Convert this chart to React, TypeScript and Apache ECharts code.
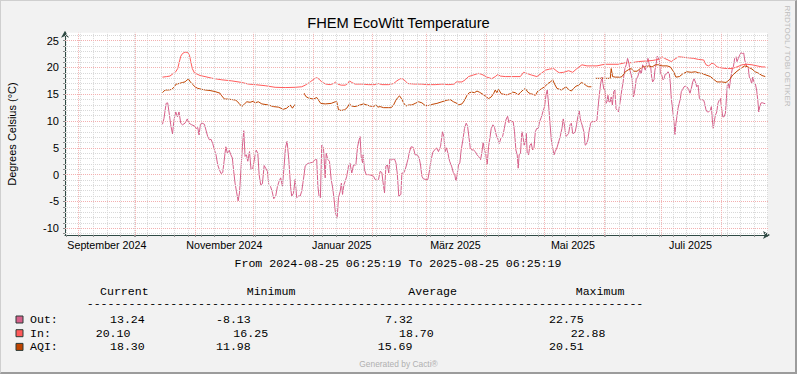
import React, { useEffect, useRef } from "react";
import * as echarts from "echarts";

const DAY_MS = 86400000;
const RANGE_START = Date.UTC(2024, 7, 25, 6, 25, 19);
const RANGE_END = Date.UTC(2025, 7, 25, 6, 25, 19);

const TITLE = "FHEM EcoWitt Temperature";
const Y_TITLE = "Degrees Celsius (°C)";
const PERIOD_TEXT = "From 2024-08-25 06:25:19 To 2025-08-25 06:25:19";
const WATERMARK = "RRDTOOL / TOBI OETIKER";
const FOOTER = "Generated by Cacti®";

const monthLabels = ["September 2024", "November 2024", "Januar 2025", "März 2025", "Mai 2025", "Juli 2025"];
const monthLabelDates: [number, number, number][] = [
  [2024, 8, 16], [2024, 10, 16], [2025, 0, 16], [2025, 2, 16], [2025, 4, 16], [2025, 6, 16],
];
const yTickValues = [-10, -5, 0, 5, 10, 15, 20, 25];

// [days after 2024-08-25 06:25:19, °C]
const outPoints: [number, number][] = [
  [50.6, 9.4], [51.4, 10.5], [52.5, 13.3], [53.3, 13.4], [54.0, 11.7], [54.9, 9.3], [55.8, 7.6], [56.6, 10.2],
  [57.5, 11.7], [58.4, 10.8], [59.2, 11.7], [60.1, 9.6], [61.0, 9.3], [62.3, 9.6], [63.5, 10.4], [64.4, 9.6],
  [65.8, 9.3], [67.2, 9.1], [68.2, 8.6], [68.9, 8.8], [69.6, 7.4], [70.3, 9.4], [71.2, 9.6], [72.4, 9.4],
  [73.2, 8.3], [74.1, 7.1], [75.0, 6.5], [75.8, 6.6], [76.7, 5.8], [77.6, 4.6], [78.4, 3.7], [79.3, 1.8],
  [80.2, 0.9], [81.0, 0.2], [81.9, 0.4], [82.6, 2.5], [83.5, 5.2], [84.3, 4.0], [85.2, 4.6], [86.1, 3.7],
  [86.9, 3.1], [87.6, 0.6], [88.3, -1.6], [89.0, -3.1], [89.9, -4.9], [90.6, -3.4], [91.4, 1.2], [92.1, 5.2],
  [92.8, 8.2], [93.5, 3.4], [94.2, 3.7], [94.9, 2.5], [95.8, 4.3], [96.6, 0.9], [97.5, 1.2], [99.2, 4.6],
  [100.1, 4.0], [100.8, 0.0], [101.6, -1.9], [102.5, -1.7], [103.4, 1.7], [104.2, 1.2], [105.1, 0.6], [105.8, -1.9],
  [106.7, -2.2], [107.5, -3.1], [108.4, -4.5], [109.4, -4.0], [110.3, -2.2], [111.2, -1.2], [112.0, -0.6], [112.9, -2.2],
  [113.8, 1.8], [114.5, 5.1], [115.3, 6.2], [116.2, 2.8], [117.1, -2.2], [117.7, -4.0], [118.6, -3.5], [119.5, -0.9],
  [120.3, -4.3], [121.2, -4.0], [122.1, -4.0], [122.9, -3.1], [123.8, -0.9], [124.7, 1.6], [126.1, 2.1], [127.3, 2.2],
  [128.5, 2.3], [129.9, 2.8], [130.7, 2.8], [131.3, -2.2], [131.9, -4.0], [132.6, -4.3], [133.3, 5.5], [134.2, 5.0],
  [135.1, -0.6], [135.6, 4.0], [136.5, 2.8], [137.3, 2.5], [138.2, -0.9], [139.0, -2.5], [139.7, -4.6], [140.4, -7.1],
  [141.3, -8.13], [142.0, -4.3], [142.9, -3.1], [143.5, -1.6], [144.1, -3.7], [144.8, -1.9], [145.5, -1.2], [146.3, -0.3],
  [147.2, 1.6], [148.0, 2.1], [148.9, 0.3], [149.8, 1.8], [151.0, 1.8], [151.9, 5.2], [152.7, 6.5], [153.2, 7.1],
  [153.8, 3.3], [154.5, 2.2], [154.8, 3.7], [155.5, 0.9], [156.4, 0.0], [157.6, 0.0], [158.8, -0.1], [160.2, -0.3],
  [161.0, -0.9], [162.1, -1.1], [162.8, -0.9], [163.6, 0.6], [164.5, 0.4], [165.4, -2.2], [165.9, -3.4], [166.6, 1.6],
  [167.4, 1.8], [168.1, 0.3], [168.7, 3.1], [169.5, 2.7], [170.2, 2.9], [171.1, 2.9], [171.8, 2.2], [172.5, 0.3],
  [173.3, -4.0], [174.4, -3.7], [174.9, 0.3], [175.8, 0.3], [176.6, 0.9], [177.3, 1.8], [178.0, 2.8], [178.9, 4.3],
  [179.7, 5.2], [180.8, 5.1], [181.8, 3.7], [182.9, 3.7], [183.9, 3.1], [184.6, 1.8], [185.3, -0.3], [186.1, -0.8],
  [187.4, -0.9], [188.4, -0.9], [189.3, 0.9], [190.1, 2.8], [191.0, 4.2], [191.9, 4.6], [192.9, 5.0], [193.9, 4.3],
  [195.0, 5.3], [196.0, 8.0], [196.7, 7.1], [197.4, 4.3], [198.1, 5.0], [198.8, 4.0], [199.7, 2.5], [200.7, 1.6],
  [201.6, 0.4], [202.4, 0.0], [202.9, -1.2], [203.5, -0.3], [204.3, 1.8], [205.0, 2.2], [205.7, 4.6], [206.6, 6.5],
  [207.4, 8.6], [208.3, 9.6], [209.0, 9.1], [209.7, 7.1], [210.4, 5.0], [211.3, 4.6], [212.1, 4.6], [213.0, 4.3],
  [213.9, 3.7], [214.7, 3.4], [215.8, 2.8], [216.5, 4.3], [217.1, 6.0], [217.8, 4.6], [218.5, 3.7], [219.2, 1.8],
  [219.9, 5.2], [220.6, 6.8], [221.3, 8.6], [222.2, 9.3], [223.0, 8.8], [223.9, 7.4], [224.8, 6.6], [225.5, 5.8],
  [226.3, 6.8], [227.2, 7.1], [228.1, 8.6], [228.9, 10.2], [229.8, 10.9], [230.5, 9.7], [231.2, 10.2], [232.0, 9.9],
  [232.7, 9.9], [233.4, 8.0], [234.1, 4.6], [234.8, 3.7], [235.3, 1.2], [235.8, 3.7], [236.5, 4.0], [237.2, 8.0],
  [237.8, 7.1], [238.4, 5.5], [239.0, 6.1], [239.5, 7.7], [240.0, 4.0], [240.7, 3.7], [241.4, 5.5], [242.1, 5.8],
  [242.8, 4.6], [243.5, 5.0], [244.2, 8.0], [244.9, 8.6], [245.7, 8.6], [246.4, 9.9], [247.3, 10.7], [248.1, 11.7],
  [249.0, 12.7], [249.7, 14.8], [250.4, 15.8], [251.1, 13.0], [251.8, 9.6], [252.5, 6.5], [253.2, 5.0], [253.9, 3.7],
  [254.5, 4.3], [255.4, 5.0], [256.3, 6.1], [257.1, 7.1], [258.0, 8.6], [258.7, 10.4], [259.4, 9.0], [260.1, 7.1],
  [260.8, 7.4], [261.5, 7.7], [262.2, 9.3], [262.9, 9.6], [263.6, 7.7], [264.2, 7.7], [264.9, 8.0], [265.6, 9.3],
  [266.3, 10.9], [267.0, 11.9], [267.5, 10.5], [268.1, 9.7], [268.7, 9.0], [269.4, 8.0], [270.1, 5.5], [270.8, 5.7],
  [271.5, 6.5], [272.2, 8.3], [272.9, 9.6], [273.6, 9.9], [274.5, 9.9], [275.3, 9.9], [276.2, 10.2], [276.7, 12.3],
  [277.4, 14.8], [278.1, 17.0], [278.8, 18.2], [279.3, 17.0], [279.8, 15.8], [280.3, 16.1], [280.9, 13.3], [281.4, 13.6],
  [281.9, 14.8], [282.4, 13.6], [283.1, 13.6], [283.6, 14.5], [284.2, 13.0], [284.9, 15.5], [285.5, 15.8], [286.1, 12.3],
  [286.8, 12.0], [287.4, 11.7], [288.1, 13.3], [288.7, 14.8], [289.2, 16.1], [289.7, 17.0], [290.2, 18.6], [290.7, 19.8],
  [291.4, 20.5], [292.1, 21.7], [292.8, 20.8], [293.3, 19.5], [294.0, 18.6], [294.5, 17.7], [295.1, 14.5], [295.6, 15.2],
  [296.1, 16.4], [296.6, 17.9], [297.3, 18.2], [297.8, 18.8], [298.5, 19.5], [299.2, 18.8], [299.9, 20.5], [300.6, 20.1],
  [301.3, 19.5], [302.0, 20.8], [302.7, 21.7], [303.4, 20.5], [304.1, 20.1], [304.6, 18.2], [305.1, 17.3], [305.8, 17.7],
  [306.3, 19.5], [307.0, 20.8], [307.5, 22.1], [308.6, 21.4], [309.1, 18.9], [309.8, 18.6], [310.5, 17.7], [311.0, 17.9],
  [311.7, 18.8], [312.4, 18.8], [313.1, 19.2], [313.8, 18.8], [314.3, 17.0], [314.8, 14.2], [315.3, 12.7], [315.8, 11.1],
  [316.4, 9.0], [316.7, 7.5], [317.2, 9.6], [317.7, 10.8], [318.3, 12.4], [318.9, 13.3], [319.5, 14.2], [320.0, 15.5],
  [320.7, 15.9], [321.4, 16.4], [322.1, 16.5], [322.9, 16.4], [323.8, 15.9], [324.5, 15.2], [325.2, 16.1], [325.9, 17.3],
  [326.6, 17.9], [327.3, 17.3], [328.0, 16.4], [328.7, 16.7], [329.4, 14.2], [330.0, 14.0], [330.7, 14.0], [331.6, 13.9],
  [332.1, 13.3], [332.8, 12.1], [333.5, 11.7], [334.2, 11.7], [335.1, 12.1], [335.6, 12.7], [336.1, 10.2], [336.6, 8.6],
  [337.1, 9.9], [337.7, 11.1], [338.4, 11.7], [339.0, 13.3], [339.7, 13.9], [340.3, 14.2], [340.8, 12.7], [341.5, 10.8],
  [342.2, 10.8], [342.9, 11.5], [343.4, 14.2], [343.9, 16.7], [344.4, 17.0], [344.9, 16.1], [345.5, 17.7], [346.0, 18.8],
  [346.5, 19.8], [347.0, 20.1], [347.7, 21.7], [348.4, 22.0], [348.9, 21.1], [349.6, 21.7], [350.3, 22.3], [351.0, 22.75],
  [351.7, 22.6], [352.4, 22.7], [352.9, 21.4], [353.4, 20.8], [354.1, 20.1], [354.8, 19.8], [355.3, 18.2], [356.0, 17.7],
  [356.5, 17.0], [357.1, 18.2], [357.7, 17.3], [358.4, 17.0], [359.1, 15.8], [359.7, 13.9], [360.2, 11.7], [360.7, 12.7],
  [361.4, 13.4], [362.3, 13.4], [362.9, 13.3], [363.6, 13.24],
];

const inPoints: [number, number][] = [
  [50.6, 18.2], [52.8, 18.3], [54.5, 18.4], [56.3, 18.9], [57.5, 19.2], [58.5, 19.8], [59.2, 20.8], [60.1, 22.1],
  [61.0, 22.6], [62.3, 22.88], [63.7, 22.8], [64.6, 22.3], [65.3, 21.1], [66.1, 19.8], [67.2, 19.0], [68.4, 18.8],
  [70.1, 18.5], [72.7, 18.3], [76.2, 18.0], [81.4, 17.7], [86.6, 17.5], [91.8, 17.2], [95.2, 16.9], [98.7, 16.8],
  [103.9, 16.6], [109.1, 16.3], [114.3, 16.25], [119.5, 16.3], [122.9, 16.4], [124.7, 16.7], [127.3, 17.3], [129.5, 17.9],
  [130.7, 18.1], [132.0, 17.8], [133.3, 17.3], [135.4, 16.9], [137.7, 16.8], [139.4, 17.0], [140.6, 17.3], [141.6, 16.9],
  [143.4, 16.7], [145.5, 16.7], [146.8, 17.0], [147.7, 17.5], [148.9, 17.2], [150.6, 16.9], [154.1, 16.9], [157.6, 16.8],
  [161.0, 16.8], [162.8, 17.0], [164.5, 16.8], [168.0, 16.8], [170.6, 17.0], [172.3, 17.5], [174.0, 17.9], [175.2, 17.9],
  [176.6, 17.5], [178.0, 17.0], [181.8, 16.9], [185.3, 16.9], [187.9, 16.8], [192.2, 16.8], [195.7, 16.9], [199.1, 16.8],
  [202.2, 16.9], [203.1, 17.3], [206.1, 17.3], [207.8, 17.7], [209.5, 18.3], [212.1, 18.6], [214.7, 18.9], [216.5, 18.7],
  [219.1, 18.2], [221.6, 17.9], [223.4, 18.3], [224.8, 18.7], [226.0, 18.4], [228.6, 18.3], [232.0, 18.3], [236.4, 18.3],
  [238.1, 19.1], [239.8, 18.9], [242.1, 18.6], [245.0, 18.3], [247.3, 18.9], [249.4, 19.5], [251.6, 19.7], [253.7, 19.8],
  [255.4, 19.3], [256.6, 19.0], [258.9, 19.1], [261.5, 19.4], [263.6, 19.1], [265.8, 19.8], [268.4, 20.5], [271.0, 20.3],
  [276.2, 20.3], [278.8, 20.5], [280.5, 20.6], [287.4, 20.6], [290.9, 20.9], [294.4, 20.9], [297.8, 21.1], [301.3, 21.2],
  [304.8, 21.3], [306.5, 21.4], [308.2, 21.5], [310.0, 22.0], [311.3, 21.7], [313.1, 21.4], [314.8, 21.1], [316.0, 21.4],
  [317.2, 21.7], [318.6, 22.0], [321.2, 21.9], [323.8, 21.8], [326.4, 21.7], [329.0, 21.5], [331.6, 21.4], [332.8, 20.5],
  [334.2, 20.3], [335.9, 20.8], [337.3, 20.6], [338.5, 20.1], [341.1, 19.9], [343.7, 19.8], [346.3, 19.8], [348.9, 20.1],
  [351.5, 20.5], [354.1, 20.6], [356.7, 20.5], [359.3, 20.3], [361.9, 20.1], [363.6, 20.1],
];

const aqiPoints: [number, number | null][] = [
  [50.6, 15.3], [52.0, 15.8], [53.7, 15.8], [55.4, 15.9], [56.8, 16.4], [57.7, 16.9], [59.2, 17.0], [61.0, 17.2],
  [62.3, 17.3], [63.4, 17.7], [64.2, 17.8], [65.1, 17.3], [66.1, 16.9], [67.5, 16.4], [68.9, 16.1], [70.1, 16.0],
  [72.7, 15.8], [75.3, 15.7], [77.9, 15.5], [80.5, 15.2], [81.4, 14.7], [82.8, 14.1], [84.8, 14.1], [86.9, 14.0],
  [88.7, 13.9], [90.4, 13.3], [91.8, 12.7], [93.2, 13.2], [94.4, 13.6], [96.1, 13.5], [97.8, 13.7], [98.7, 13.4],
  [100.4, 13.6], [102.2, 13.2], [105.6, 13.0], [108.2, 12.7], [110.8, 12.6], [113.4, 12.2], [115.1, 12.4], [116.9, 13.0],
  [118.1, 12.4], [119.1, 13.0], [119.8, 13.0], [121.9, null],
  [124.2, 15.2], [125.0, 14.6], [126.4, 14.3], [129.0, 14.1], [130.7, 14.4], [131.6, 13.9], [132.8, 13.3], [135.1, 13.2],
  [138.2, 13.3], [140.3, 13.6], [141.1, 13.6], [142.0, 12.1], [143.4, 11.98], [145.1, 12.1], [146.3, 12.4], [147.7, 13.2],
  [148.9, 12.8], [150.6, 12.7], [153.2, 13.0], [155.0, 13.2], [156.7, 13.0], [158.4, 12.8], [160.2, 12.7], [161.4, 13.0],
  [162.4, 12.6], [163.6, 12.7], [165.4, 12.5], [168.0, 12.5], [169.4, 12.5], [170.6, 13.0], [171.8, 13.9], [172.8, 14.4],
  [173.7, 14.7], [174.5, 14.3], [175.8, 13.4], [177.0, 12.8], [178.4, 13.0], [180.1, 13.0], [181.8, 13.3], [183.6, 13.6],
  [185.3, 13.4], [187.0, 12.9], [188.7, 12.9], [190.5, 13.1], [193.1, 13.3], [195.7, 13.6], [198.3, 13.9], [200.0, 14.0],
  [201.7, 13.6], [203.5, 13.3], [204.3, 13.0], [206.1, 13.2], [207.5, 13.9], [208.7, 14.8], [209.9, 15.3], [211.3, 15.4],
  [212.6, 15.3], [213.9, 15.6], [215.1, 15.4], [216.5, 15.1], [218.2, 14.7], [219.9, 14.2], [221.3, 14.5], [222.5, 15.1],
  [223.4, 15.8], [224.2, 15.3], [225.1, 15.9], [226.5, 15.1], [227.7, 15.0], [229.4, 14.9], [231.2, 15.1], [232.4, 15.4],
  [233.8, 15.3], [235.2, 14.9], [236.4, 15.3], [237.8, 15.8], [239.0, 16.1], [240.3, 15.4], [241.6, 15.1], [242.9, 15.0],
  [244.2, 14.8], [245.5, 15.6], [247.3, 16.0], [249.0, 16.4], [250.7, 17.0], [252.1, 17.3], [253.2, 17.7], [254.2, 16.9],
  [255.4, 16.1], [257.7, 15.8], [258.9, 16.1], [260.1, 16.4], [261.5, 15.9], [262.9, 15.6], [264.1, 16.1], [265.3, 16.5],
  [266.7, 16.7], [268.1, 17.2], [269.3, 17.0], [270.7, 16.6], [271.9, 16.4], [273.3, 16.4], [274.3, null],
  [275.3, 17.97], [277.9, 17.97], [280.5, 17.97], [283.1, 17.97], [283.6, 19.8], [284.3, 18.3], [285.7, 18.2], [288.3, 18.2],
  [289.2, 18.3], [290.9, 19.2], [292.6, 19.6], [294.0, 19.8], [295.2, 19.3], [297.0, 19.3], [298.7, 19.8], [299.9, 20.1],
  [301.3, 20.1], [303.0, 20.3], [304.8, 20.1], [306.5, 20.5], [308.2, 20.51], [310.0, 20.3], [312.6, 20.3], [314.3, 20.1],
  [316.0, 19.2], [317.2, 18.2], [319.0, 18.3], [320.7, 18.8], [322.9, 19.2], [325.2, 19.1], [327.3, 19.2], [329.0, 19.0],
  [330.7, 18.9], [332.8, 18.6], [335.1, 18.3], [336.8, 17.8], [338.5, 17.3], [341.1, 17.3], [343.2, 17.2], [344.9, 17.7],
  [346.7, 18.6], [348.9, 19.3], [350.7, 19.8], [352.9, 20.3], [354.6, 20.1], [356.7, 19.7], [358.4, 19.2], [360.2, 18.9],
  [361.9, 18.5], [363.6, 18.3],
];

const seriesNames = ["Out", "In", "AQI"];
const seriesColors = ["#D6608A", "#FF5A5A", "#C04400"];
const legendLabels = ["Out:", "In:", "AQI:"];
const legendHeaders = ["Current", "Minimum", "Average", "Maximum"];
const currentValues = ["13.24", "20.10", "18.30"];
const minimumValues = ["-8.13", "16.25", "11.98"];
const averageValues = ["7.32", "18.70", "15.69"];
const maximumValues = ["22.75", "22.88", "20.51"];

const AXIS_COLOR = "#2F4A44";
const MINOR_GRID = "#D8D8D8";
const MAJOR_GRID = "#F3B0B0";
const SANS = '"Liberation Sans", Arial, sans-serif';
const MONO = '"Liberation Mono", "DejaVu Sans Mono", monospace';
const MONO_SIZE = 11.6;

function toSeriesData(points: [number, number | null][]) {
  return points.map(([d, v]) => [RANGE_START + d * DAY_MS, v === null ? "-" : v]);
}

function buildOption() {
  const labelTimes = monthLabelDates.map(([y, m, d]) => Date.UTC(y, m, d));

  const minorX: number[] = [];
  for (let t = Date.UTC(2024, 7, 26); t < RANGE_END; t += 7 * DAY_MS) minorX.push(t);
  const majorX: number[] = [];
  for (let i = 0; i < 12; i++) majorX.push(Date.UTC(2024, 8 + i, 1));
  const minorY: number[] = [];
  for (let v = -11; v <= 26; v++) if (v % 5 !== 0) minorY.push(v);
  const allY: number[] = [];
  for (let v = -11; v <= 26; v++) allY.push(v);

  const rowY = [319.5, 333.2, 346.9];
  const colX = {
    current: [110, 95.7, 110],
    minimum: [216, 233.3, 216],
    average: [385, 399, 377.7],
    maximum: [549, 570.7, 549],
  };
  const headerX = [100, 246.7, 408.3, 575.7];

  const monoText = (text: string, x: number, y: number, align = "left") => ({
    type: "text",
    x,
    y,
    silent: true,
    style: { text, fill: "#000", font: `${MONO_SIZE}px ${MONO}`, align, verticalAlign: "middle" },
  });

  const graphics: any[] = [
    {
      type: "text", x: 398.5, y: 23, silent: true,
      style: { text: TITLE, fill: "#000", font: `14.7px ${SANS}`, align: "center", verticalAlign: "middle" },
    },
    {
      type: "text", x: 11.5, y: 134, rotation: Math.PI / 2, silent: true,
      style: { text: Y_TITLE, fill: "#000", font: `11px ${SANS}`, align: "center", verticalAlign: "middle" },
    },
    {
      type: "text", x: 787.5, y: 56, rotation: -Math.PI / 2, silent: true,
      style: { text: WATERMARK, fill: "#BDBDBD", font: `8px ${SANS}`, align: "center", verticalAlign: "middle" },
    },
    {
      type: "text", x: 398.5, y: 363.5, silent: true,
      style: { text: FOOTER, fill: "#B0B0B0", font: `8.4px ${SANS}`, align: "center", verticalAlign: "middle" },
    },
    monoText(PERIOD_TEXT, 398, 263, "center"),
    monoText("-".repeat(80), 86.7, 303),
  ];
  legendHeaders.forEach((h, i) => graphics.push(monoText(h, headerX[i], 291)));
  seriesNames.forEach((_, i) => {
    graphics.push({
      type: "rect", silent: true,
      shape: { x: 16, y: rowY[i] - 3.5, width: 7, height: 7 },
      style: { fill: seriesColors[i], stroke: "#2B3B36", lineWidth: 1 },
    });
    graphics.push(monoText(legendLabels[i], 30, rowY[i]));
    graphics.push(monoText(currentValues[i], colX.current[i], rowY[i]));
    graphics.push(monoText(minimumValues[i], colX.minimum[i], rowY[i]));
    graphics.push(monoText(averageValues[i], colX.average[i], rowY[i]));
    graphics.push(monoText(maximumValues[i], colX.maximum[i], rowY[i]));
  });

  const gridLineSeries = (name: string, color: string, xs: number[], ys: number[]) => ({
    name,
    type: "line",
    data: [],
    silent: true,
    z: 1,
    markLine: {
      silent: true,
      animation: false,
      symbol: ["none", "none"],
      label: { show: false },
      lineStyle: { color, width: 1, type: [1, 1], opacity: 1 },
      emphasis: { disabled: true },
      data: [...xs.map((t) => ({ xAxis: t })), ...ys.map((v) => ({ yAxis: v }))],
    },
  });

  const dataSeries = [outPoints, inPoints, aqiPoints].map((pts, i) => ({
    name: seriesNames[i],
    type: "line",
    data: toSeriesData(pts as [number, number | null][]),
    showSymbol: false,
    symbol: "none",
    connectNulls: false,
    z: 3,
    lineStyle: { color: seriesColors[i], width: 1 },
    itemStyle: { color: seriesColors[i] },
  }));

  return {
    animation: false,
    grid: {
      left: 65, right: 29, top: 32.66, bottom: 139.1,
      show: true, backgroundColor: "#FFFFFF", borderWidth: 0,
    },
    xAxis: {
      type: "value",
      min: RANGE_START,
      max: RANGE_END,
      axisLine: {
        show: true, onZero: false,
        lineStyle: { color: AXIS_COLOR, width: 1 },
        symbol: ["none", "arrow"], symbolSize: [6, 7], symbolOffset: [0, 2],
      },
      axisTick: {
        show: true,
        customValues: [...minorX, ...majorX],
        length: 2,
        lineStyle: { color: "#8A8A8A", width: 1 },
      },
      splitLine: { show: false },
      axisLabel: {
        customValues: labelTimes,
        formatter: (v: number) => {
          const idx = labelTimes.indexOf(v);
          return idx >= 0 ? monthLabels[idx] : "";
        },
        color: "#000",
        fontSize: 10.7,
        fontFamily: SANS,
        margin: 5,
        hideOverlap: false,
      },
    },
    yAxis: {
      type: "value",
      min: -11.25,
      max: 26.5,
      interval: 1.25,
      axisLine: {
        show: true, onZero: false,
        lineStyle: { color: AXIS_COLOR, width: 1 },
        symbol: ["none", "arrow"], symbolSize: [6, 7], symbolOffset: [0, 2],
      },
      axisTick: {
        show: true,
        customValues: allY,
        length: 2,
        lineStyle: { color: "#8A8A8A", width: 1 },
      },
      splitLine: { show: false },
      axisLabel: {
        formatter: (v: number) => (yTickValues.some((t) => Math.abs(t - v) < 1e-6) ? String(v) : ""),
        color: "#000",
        fontSize: 11,
        fontFamily: SANS,
        margin: 6,
      },
    },
    series: [
      gridLineSeries("minor-grid", MINOR_GRID, minorX, minorY),
      gridLineSeries("major-grid", MAJOR_GRID, majorX, yTickValues),
      ...dataSeries,
    ],
    graphic: graphics,
  };
}

export default function App() {
  const ref = useRef<HTMLDivElement>(null);
  useEffect(() => {
    if (!ref.current) return;
    const chart = echarts.init(ref.current, undefined, { renderer: "svg" });
    chart.setOption(buildOption() as any);
    return () => chart.dispose();
  }, []);
  return (
    <div style={{ position: "fixed", left: 0, top: 0, width: 797, height: 374, background: "#F2F2F2" }}>
      <div ref={ref} style={{ position: "absolute", left: 0, top: 0, width: 797, height: 374 }} />
      <div
        style={{
          position: "absolute", left: 0, top: 0, width: 797, height: 374, boxSizing: "border-box",
          borderTop: "1px solid #CFCFCF", borderLeft: "1px solid #CFCFCF",
          borderRight: "2px solid #9C9C9C", borderBottom: "2px solid #9C9C9C", pointerEvents: "none",
        }}
      />
    </div>
  );
}
